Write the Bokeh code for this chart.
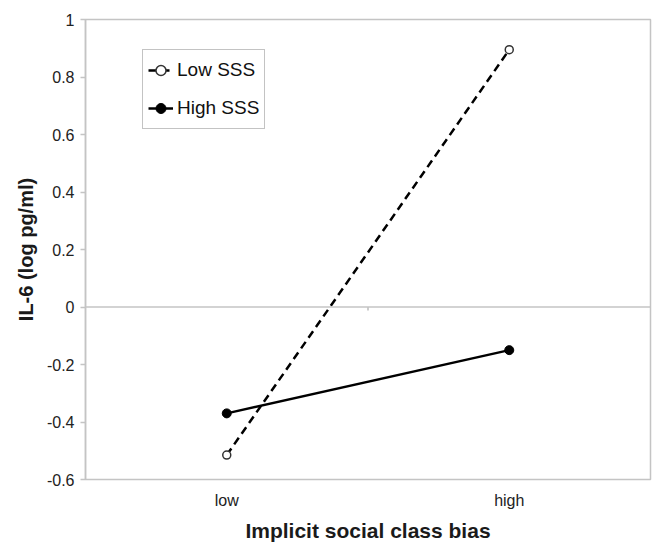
from bokeh.plotting import figure
from bokeh.models import (FactorRange, Range1d, FixedTicker, CustomJSTickFormatter,
                          Span, Legend, LegendItem, ColumnDataSource)
from bokeh.transform import dodge
from bokeh.embed import file_html
from bokeh.resources import INLINE

# ---- data ----
categories = ["low", "high"]
low_sss = [-0.515, 0.895]
high_sss = [-0.37, -0.15]
y_ticks = [-0.6, -0.4, -0.2, 0.0, 0.2, 0.4, 0.6, 0.8, 1.0]
series_names = ["Low SSS", "High SSS"]
x_title = "Implicit social class bias"
y_title = "IL-6 (log pg/ml)"

FONT = "Liberation Sans"
GRAY = "#c4c4c4"

p = figure(x_range=FactorRange(*categories), y_range=Range1d(y_ticks[0], y_ticks[-1]),
           width=653, height=544, output_backend="svg", toolbar_location=None,
           min_border_left=85, min_border_right=3, min_border_top=19, min_border_bottom=65,
           background_fill_color="white", border_fill_color="white")

p.xgrid.visible = False
p.ygrid.visible = False
p.outline_line_color = GRAY
p.outline_line_width = 1.5

# y axis
ya = p.yaxis[0]
ya.ticker = FixedTicker(ticks=y_ticks)
ya.formatter = CustomJSTickFormatter(code="return String(Number(tick.toFixed(1)));")
ya.axis_line_color = GRAY
ya.axis_line_width = 1.5
ya.major_tick_line_color = GRAY
ya.major_tick_line_width = 1.5
ya.major_tick_in = 0
ya.major_tick_out = 5
ya.minor_tick_line_color = None
ya.major_label_text_font = FONT
ya.major_label_text_font_size = "16px"
ya.major_label_text_color = "#222222"
ya.major_label_standoff = 6
ya.axis_label = y_title
ya.axis_label_text_font = FONT
ya.axis_label_text_font_size = "20px"
ya.axis_label_text_font_style = "bold"
ya.axis_label_text_color = "#1a1a1a"
ya.axis_label_standoff = 7

# x axis
xa = p.xaxis[0]
xa.axis_line_color = None
xa.major_tick_line_color = None
xa.major_tick_in = 0
xa.major_tick_out = 0
xa.minor_tick_line_color = None
xa.major_label_text_font = FONT
xa.major_label_text_font_size = "16px"
xa.major_label_text_color = "#222222"
xa.major_label_standoff = 12
xa.axis_label = x_title
xa.axis_label_text_font = FONT
xa.axis_label_text_font_size = "21px"
xa.axis_label_text_font_style = "bold"
xa.axis_label_text_color = "#1a1a1a"
xa.axis_label_standoff = 7

# zero line with a category-boundary tick
p.add_layout(Span(location=0, dimension="width", line_color=GRAY, line_width=1.5))
tick_src = ColumnDataSource(dict(x=[categories[0]], y0=[0.0], y1=[-0.012]))
p.segment(x0=dodge("x", 0.5, range=p.x_range), x1=dodge("x", 0.5, range=p.x_range),
          y0="y0", y1="y1", source=tick_src, line_color="#aaaaaa", line_width=1.2)

# series
r1 = p.line(categories, low_sss, line_color="black", line_width=2.5, line_dash="8 5")
r1m = p.scatter(categories, low_sss, marker="circle", size=8, fill_color="white",
                line_color="#333333", line_width=1.5)
r2 = p.line(categories, high_sss, line_color="black", line_width=2.5)
r2m = p.scatter(categories, high_sss, marker="circle", size=9, fill_color="black",
                line_color="black")

legend = Legend(items=[LegendItem(label=series_names[0], renderers=[r1, r1m]),
                       LegendItem(label=series_names[1], renderers=[r2, r2m])],
                location=(57, 350))
legend.border_line_color = "#888888"
legend.border_line_width = 1.5
legend.background_fill_color = "white"
legend.background_fill_alpha = 1
legend.label_text_font = FONT
legend.label_text_font_size = "19px"
legend.label_text_color = "#111111"
legend.glyph_width = 25
legend.glyph_height = 30
legend.label_standoff = 4
legend.spacing = 8
legend.padding = 5
legend.margin = 0
p.add_layout(legend)

open("out.html", "w").write(file_html(p, INLINE))
